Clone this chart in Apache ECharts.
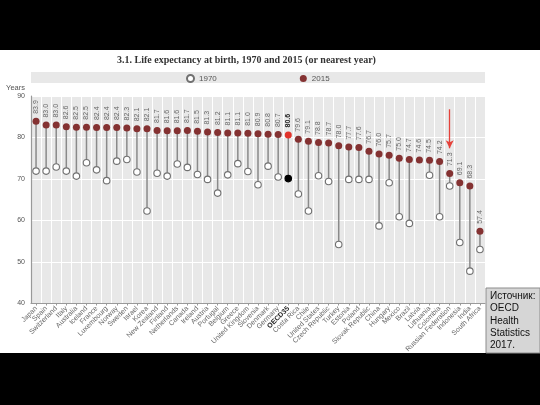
<!DOCTYPE html>
<html><head><meta charset="utf-8">
<script src="https://cdn.jsdelivr.net/npm/echarts@6/dist/echarts.min.js"></script>
<style>html,body{margin:0;padding:0;background:#fff}#c{width:540px;height:405px}</style>
</head><body><div id="c"></div>
<script>
const countries = ['Japan','Spain','Switzerland','Italy','Australia','Iceland','France','Luxembourg','Norway','Sweden','Israel','Korea','New Zealand','Finland','Netherlands','Canada','Ireland','Austria','Portugal','Belgium','Greece','United Kingdom','Slovenia','Denmark','Germany','OECD35','Costa Rica','Chile','United States','Czech Republic','Turkey','Estonia','Poland','Slovak Republic','China','Hungary','Mexico','Brazil','Latvia','Lithuania','Colombia','Russian Federation','Indonesia','India','South Africa'];
const v2015 = [83.9,83.0,83.0,82.6,82.5,82.5,82.4,82.4,82.4,82.3,82.1,82.1,81.7,81.6,81.6,81.7,81.5,81.3,81.2,81.1,81.1,81.0,80.9,80.8,80.7,80.6,79.6,79.1,78.8,78.7,78.0,77.7,77.6,76.7,76.0,75.7,75.0,74.7,74.6,74.5,74.2,71.3,69.1,68.3,57.4];
const v1970 = [71.9,71.9,72.9,71.9,70.7,73.9,72.2,69.6,74.3,74.7,71.7,62.3,71.4,70.7,73.6,72.8,71.1,69.9,66.6,71.0,73.7,71.8,68.6,73.1,70.5,70.1,66.4,62.3,70.8,69.4,54.2,69.9,69.9,69.9,58.7,69.1,60.9,59.3,null,70.9,60.9,68.3,54.7,47.8,53.0];
const yTicks = [40,50,60,70,80,90];
const titleText = '3.1. Life expectancy at birth, 1970 and 2015 (or nearest year)';
const sourceLines = ['Источник:','OECD','Health','Statistics','2017.'];
const arrowCountry = 'Russian Federation';
const arrowFrom = 86.8, arrowTo = 77.4;

const oecdIdx = countries.indexOf('OECD35');
const chart = echarts.init(document.getElementById('c'), null, {renderer:'canvas'});

const stemData = countries.map((c,i)=>[i, v1970[i], v2015[i]]);
const d2015 = v2015.map((v,i)=> i===oecdIdx ? {value:v, itemStyle:{color:'#e2332b'}, label:{fontWeight:'bold', color:'#222'}} : v);
const d1970 = v1970.map((v,i)=> i===oecdIdx ? {value:v, itemStyle:{color:'#000', borderColor:'#000'}} : v);

chart.setOption({
  animation:false,
  backgroundColor:'#fff',
  title:{text:titleText, left:117, top:55, padding:0,
    textStyle:{fontFamily:'Liberation Serif', fontWeight:'bold', fontSize:10, color:'#333'}},
  legend:{data:['1970','2015'], left:186, top:74, padding:0, itemWidth:7, itemHeight:7, itemGap:83,
    textStyle:{fontSize:8, color:'#555', fontFamily:'Liberation Sans'}},
  graphic:[
    {type:'rect', shape:{x:0,y:0,width:540,height:50}, style:{fill:'#000'}, z:100},
    {type:'rect', shape:{x:0,y:353,width:540,height:52}, style:{fill:'#000'}, z:100},
    {type:'rect', shape:{x:31,y:72,width:454,height:11}, style:{fill:'#e8e8e8'}, z:-1},
    {type:'rect', shape:{x:486,y:288,width:54,height:65}, style:{fill:'#d6d6d6', stroke:'#8c8c8c', lineWidth:1}, z:101},
    {type:'text', left:490, top:290, z:102, style:{text:sourceLines.join('\n'), fontSize:10, lineHeight:12.3, fill:'#111', fontFamily:'Liberation Sans'}}
  ],
  grid:{left:31, right:55, top:96, bottom:101.5, show:true, backgroundColor:'#e8e8e8', borderWidth:0},
  xAxis:{type:'category', data:countries, boundaryGap:true,
    axisLine:{lineStyle:{color:'#999', width:1}},
    axisTick:{show:true, alignWithLabel:true, length:2, lineStyle:{color:'#999'}},
    axisLabel:{interval:0, rotate:45, fontSize:7, color:'#666', margin:4, fontFamily:'Liberation Sans',
      formatter:(v)=> v==='OECD35' ? '{b|'+v+'}' : v,
      rich:{b:{fontWeight:'bold', color:'#222', fontSize:7}}},
    splitLine:{show:true, interval:0, lineStyle:{color:'#fff', width:1}}},
  yAxis:{type:'value', min:yTicks[0], max:yTicks[yTicks.length-1], interval:10,
    name:'Years', nameLocation:'end', nameGap:4,
    nameTextStyle:{fontSize:7.5, color:'#555', align:'right', padding:[0,6,0,0], fontFamily:'Liberation Sans'},
    axisLine:{show:true, lineStyle:{color:'#999', width:1.2}},
    axisTick:{show:false},
    axisLabel:{fontSize:7, color:'#555', margin:6, fontFamily:'Liberation Sans'},
    splitLine:{lineStyle:{color:'#fff', width:1}}},
  series:[
    {type:'custom', name:'stem', z:1, data:stemData,
      renderItem:(params, api)=>{
        const a = api.value(1), b = api.value(2);
        if (a==null || isNaN(a)) return null;
        const p1 = api.coord([api.value(0), a]);
        const p2 = api.coord([api.value(0), b]);
        return {type:'line', shape:{x1:p1[0], y1:p1[1], x2:p2[0], y2:p2[1]},
          style:{stroke:'#8a8a8a', lineWidth:1.5}};
      },
      markLine:{silent:true, symbol:['none','arrow'], symbolSize:[6,8],
        lineStyle:{color:'#e5413a', width:1.3, type:'solid'}, label:{show:false},
        data:[[{coord:[arrowCountry, arrowFrom]},{coord:[arrowCountry, arrowTo]}]]}
    },
    {type:'scatter', name:'1970', z:3, data:d1970, symbol:'circle', symbolSize:6.5,
      itemStyle:{color:'#fff', borderColor:'#707070', borderWidth:1.1, opacity:1}},
    {type:'scatter', name:'2015', z:4, data:d2015, symbol:'circle', symbolSize:7,
      itemStyle:{color:'#843232', opacity:1},
      label:{show:true, position:'top', rotate:90, align:'left', verticalAlign:'middle', distance:4,
        fontSize:7, color:'#666', fontFamily:'Liberation Sans',
        formatter:(p)=> Number(p.value).toFixed(1)}}
  ]
});
</script>
</body></html>
